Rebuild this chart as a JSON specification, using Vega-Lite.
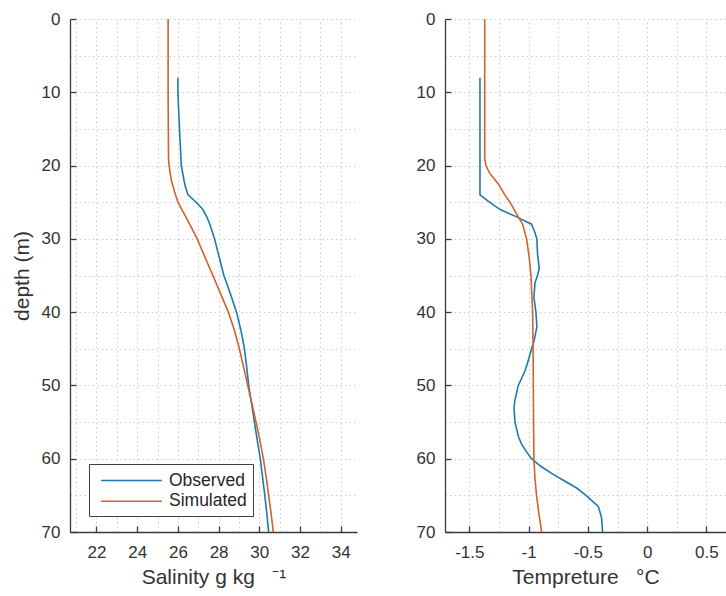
{
  "$schema": "https://vega.github.io/schema/vega-lite/v6.json",
  "background": "white",
  "padding": {"left": 11, "top": 10, "right": 0, "bottom": 2},
  "spacing": 88,
  "bounds": "flush",
  "config": {
    "font": "Liberation Sans",
    "view": {"stroke": null},
    "axis": {
      "domainColor": "#3a3a3a",
      "domainWidth": 1.3,
      "tickColor": "#3a3a3a",
      "tickWidth": 1.3,
      "tickSize": -6,
      "labelFont": "Liberation Sans",
      "labelFontSize": 17,
      "labelColor": "#333333",
      "titleFont": "Liberation Sans",
      "titleFontSize": 21,
      "titleFontWeight": "normal",
      "titleColor": "#333333",
      "gridColor": "#cccccc",
      "gridDash": [1.5, 3],
      "gridWidth": 1
    }
  },
  "datasets": {
    "sal": [
      {"depth": 8, "value": 26.0, "series": "Observed"},
      {"depth": 10, "value": 26.0, "series": "Observed"},
      {"depth": 15, "value": 26.08, "series": "Observed"},
      {"depth": 20, "value": 26.17, "series": "Observed"},
      {"depth": 22, "value": 26.3, "series": "Observed"},
      {"depth": 23, "value": 26.38, "series": "Observed"},
      {"depth": 24, "value": 26.5, "series": "Observed"},
      {"depth": 25, "value": 26.9, "series": "Observed"},
      {"depth": 26, "value": 27.23, "series": "Observed"},
      {"depth": 27, "value": 27.42, "series": "Observed"},
      {"depth": 28, "value": 27.57, "series": "Observed"},
      {"depth": 30, "value": 27.8, "series": "Observed"},
      {"depth": 32.5, "value": 28.03, "series": "Observed"},
      {"depth": 35, "value": 28.26, "series": "Observed"},
      {"depth": 37.5, "value": 28.58, "series": "Observed"},
      {"depth": 40, "value": 28.88, "series": "Observed"},
      {"depth": 42.5, "value": 29.1, "series": "Observed"},
      {"depth": 45, "value": 29.27, "series": "Observed"},
      {"depth": 47.5, "value": 29.38, "series": "Observed"},
      {"depth": 50, "value": 29.48, "series": "Observed"},
      {"depth": 52.5, "value": 29.62, "series": "Observed"},
      {"depth": 55, "value": 29.76, "series": "Observed"},
      {"depth": 57.5, "value": 29.9, "series": "Observed"},
      {"depth": 60, "value": 30.05, "series": "Observed"},
      {"depth": 62.5, "value": 30.16, "series": "Observed"},
      {"depth": 65, "value": 30.27, "series": "Observed"},
      {"depth": 67.5, "value": 30.37, "series": "Observed"},
      {"depth": 70, "value": 30.46, "series": "Observed"},
      {"depth": 0, "value": 25.52, "series": "Simulated"},
      {"depth": 5, "value": 25.52, "series": "Simulated"},
      {"depth": 10, "value": 25.52, "series": "Simulated"},
      {"depth": 15, "value": 25.53, "series": "Simulated"},
      {"depth": 19, "value": 25.54, "series": "Simulated"},
      {"depth": 20, "value": 25.57, "series": "Simulated"},
      {"depth": 21, "value": 25.62, "series": "Simulated"},
      {"depth": 22, "value": 25.68, "series": "Simulated"},
      {"depth": 23.5, "value": 25.83, "series": "Simulated"},
      {"depth": 25, "value": 26.0, "series": "Simulated"},
      {"depth": 27.5, "value": 26.49, "series": "Simulated"},
      {"depth": 30, "value": 26.95, "series": "Simulated"},
      {"depth": 32.5, "value": 27.33, "series": "Simulated"},
      {"depth": 35, "value": 27.72, "series": "Simulated"},
      {"depth": 37.5, "value": 28.1, "series": "Simulated"},
      {"depth": 40, "value": 28.48, "series": "Simulated"},
      {"depth": 42.5, "value": 28.78, "series": "Simulated"},
      {"depth": 45, "value": 29.02, "series": "Simulated"},
      {"depth": 47.5, "value": 29.23, "series": "Simulated"},
      {"depth": 50, "value": 29.43, "series": "Simulated"},
      {"depth": 52.5, "value": 29.64, "series": "Simulated"},
      {"depth": 55, "value": 29.84, "series": "Simulated"},
      {"depth": 57.5, "value": 30.03, "series": "Simulated"},
      {"depth": 60, "value": 30.2, "series": "Simulated"},
      {"depth": 62.5, "value": 30.34, "series": "Simulated"},
      {"depth": 65, "value": 30.46, "series": "Simulated"},
      {"depth": 67.5, "value": 30.58, "series": "Simulated"},
      {"depth": 70, "value": 30.69, "series": "Simulated"}
    ],
    "temp": [
      {"depth": 8, "value": -1.41, "series": "Observed"},
      {"depth": 10, "value": -1.41, "series": "Observed"},
      {"depth": 15, "value": -1.41, "series": "Observed"},
      {"depth": 20, "value": -1.41, "series": "Observed"},
      {"depth": 24, "value": -1.41, "series": "Observed"},
      {"depth": 25, "value": -1.33, "series": "Observed"},
      {"depth": 26, "value": -1.24, "series": "Observed"},
      {"depth": 27, "value": -1.1, "series": "Observed"},
      {"depth": 27.5, "value": -1.04, "series": "Observed"},
      {"depth": 28, "value": -0.975, "series": "Observed"},
      {"depth": 29, "value": -0.95, "series": "Observed"},
      {"depth": 30, "value": -0.93, "series": "Observed"},
      {"depth": 32, "value": -0.925, "series": "Observed"},
      {"depth": 34, "value": -0.91, "series": "Observed"},
      {"depth": 35, "value": -0.925, "series": "Observed"},
      {"depth": 36, "value": -0.946, "series": "Observed"},
      {"depth": 38, "value": -0.955, "series": "Observed"},
      {"depth": 40, "value": -0.938, "series": "Observed"},
      {"depth": 42, "value": -0.93, "series": "Observed"},
      {"depth": 44, "value": -0.955, "series": "Observed"},
      {"depth": 45, "value": -0.975, "series": "Observed"},
      {"depth": 47, "value": -1.01, "series": "Observed"},
      {"depth": 48, "value": -1.03, "series": "Observed"},
      {"depth": 50, "value": -1.087, "series": "Observed"},
      {"depth": 52, "value": -1.115, "series": "Observed"},
      {"depth": 53, "value": -1.123, "series": "Observed"},
      {"depth": 55, "value": -1.115, "series": "Observed"},
      {"depth": 57, "value": -1.085, "series": "Observed"},
      {"depth": 58, "value": -1.059, "series": "Observed"},
      {"depth": 59, "value": -1.02, "series": "Observed"},
      {"depth": 60, "value": -0.975, "series": "Observed"},
      {"depth": 61, "value": -0.9, "series": "Observed"},
      {"depth": 62, "value": -0.806, "series": "Observed"},
      {"depth": 63, "value": -0.7, "series": "Observed"},
      {"depth": 64, "value": -0.595, "series": "Observed"},
      {"depth": 65, "value": -0.516, "series": "Observed"},
      {"depth": 66.5, "value": -0.412, "series": "Observed"},
      {"depth": 68, "value": -0.385, "series": "Observed"},
      {"depth": 70, "value": -0.376, "series": "Observed"},
      {"depth": 0, "value": -1.37, "series": "Simulated"},
      {"depth": 5, "value": -1.37, "series": "Simulated"},
      {"depth": 10, "value": -1.37, "series": "Simulated"},
      {"depth": 15, "value": -1.37, "series": "Simulated"},
      {"depth": 19, "value": -1.37, "series": "Simulated"},
      {"depth": 20, "value": -1.36, "series": "Simulated"},
      {"depth": 21, "value": -1.33, "series": "Simulated"},
      {"depth": 22.5, "value": -1.255, "series": "Simulated"},
      {"depth": 24, "value": -1.2, "series": "Simulated"},
      {"depth": 25, "value": -1.157, "series": "Simulated"},
      {"depth": 27, "value": -1.087, "series": "Simulated"},
      {"depth": 28, "value": -1.05, "series": "Simulated"},
      {"depth": 30, "value": -1.017, "series": "Simulated"},
      {"depth": 32.5, "value": -0.995, "series": "Simulated"},
      {"depth": 35, "value": -0.98, "series": "Simulated"},
      {"depth": 40, "value": -0.966, "series": "Simulated"},
      {"depth": 45, "value": -0.962, "series": "Simulated"},
      {"depth": 50, "value": -0.96, "series": "Simulated"},
      {"depth": 55, "value": -0.958, "series": "Simulated"},
      {"depth": 60, "value": -0.955, "series": "Simulated"},
      {"depth": 62.5, "value": -0.947, "series": "Simulated"},
      {"depth": 65, "value": -0.933, "series": "Simulated"},
      {"depth": 67.5, "value": -0.913, "series": "Simulated"},
      {"depth": 70, "value": -0.89, "series": "Simulated"}
    ]
  },
  "resolve": {"legend": {"color": "independent"}},
  "hconcat": [
    {
      "width": 287,
      "height": 513,
      "data": {"name": "sal"},
      "mark": {"type": "line", "strokeWidth": 1.6, "clip": true},
      "encoding": {
        "x": {
          "field": "value",
          "type": "quantitative",
          "scale": {"domain": [20.7, 34.8], "nice": false, "zero": false},
          "axis": {
            "title": "Salinity g kg\u00a0\u00a0\u00a0⁻¹",
            "values": [21, 22, 23, 24, 25, 26, 27, 28, 29, 30, 31, 32, 33, 34],
            "labelExpr": "datum.value % 2 === 0 ? '' + datum.value : ''",
            "tickOpacity": {"condition": {"test": "datum.value % 2 === 0", "value": 1}, "value": 0},
            "labelPadding": 18,
            "titlePadding": 6
          }
        },
        "y": {
          "field": "depth",
          "type": "quantitative",
          "scale": {"domain": [0, 70], "reverse": true, "nice": false, "zero": false},
          "axis": {
            "title": "depth (m)",
            "values": [0, 5, 10, 15, 20, 25, 30, 35, 40, 45, 50, 55, 60, 65, 70],
            "labelExpr": "datum.value % 10 === 0 ? '' + datum.value : ''",
            "tickOpacity": {"condition": {"test": "datum.value % 10 === 0", "value": 1}, "value": 0},
            "labelPadding": 16,
            "titlePadding": 9
          }
        },
        "color": {
          "field": "series",
          "type": "nominal",
          "scale": {"domain": ["Observed", "Simulated"], "range": ["#1f78b0", "#d2612e"]},
          "legend": {
            "title": null,
            "orient": "none",
            "legendX": 19,
            "legendY": 445,
            "symbolType": "M-3.2,0H3.2",
            "symbolSize": 361,
            "symbolStrokeWidth": 1.6,
            "labelFontSize": 17.5,
            "labelFont": "Liberation Sans",
            "labelColor": "#262626",
            "fillColor": "white",
            "strokeColor": "#404040",
            "padding": 6,
            "symbolOffset": 26,
            "labelOffset": 27,
            "rowPadding": 1.7
          }
        },
        "order": {"field": "depth", "type": "quantitative"}
      }
    },
    {
      "width": 281,
      "height": 513,
      "data": {"name": "temp"},
      "mark": {"type": "line", "strokeWidth": 1.6, "clip": true},
      "encoding": {
        "x": {
          "field": "value",
          "type": "quantitative",
          "scale": {"domain": [-1.705, 0.665], "nice": false, "zero": false},
          "axis": {
            "title": "Tempreture\u00a0\u00a0\u00a0°C",
            "values": [-1.5, -1.25, -1, -0.75, -0.5, -0.25, 0, 0.25, 0.5],
            "labelExpr": "abs(datum.value * 2 - round(datum.value * 2)) < 0.000001 ? '' + datum.value : ''",
            "tickOpacity": {"condition": {"test": "abs(datum.value * 2 - round(datum.value * 2)) < 0.000001", "value": 1}, "value": 0},
            "labelPadding": 18,
            "titlePadding": 6
          }
        },
        "y": {
          "field": "depth",
          "type": "quantitative",
          "scale": {"domain": [0, 70], "reverse": true, "nice": false, "zero": false},
          "axis": {
            "title": null,
            "values": [0, 5, 10, 15, 20, 25, 30, 35, 40, 45, 50, 55, 60, 65, 70],
            "labelExpr": "datum.value % 10 === 0 ? '' + datum.value : ''",
            "tickOpacity": {"condition": {"test": "datum.value % 10 === 0", "value": 1}, "value": 0},
            "labelPadding": 16
          }
        },
        "color": {
          "field": "series",
          "type": "nominal",
          "scale": {"domain": ["Observed", "Simulated"], "range": ["#1f78b0", "#d2612e"]},
          "legend": null
        },
        "order": {"field": "depth", "type": "quantitative"}
      }
    }
  ]
}
